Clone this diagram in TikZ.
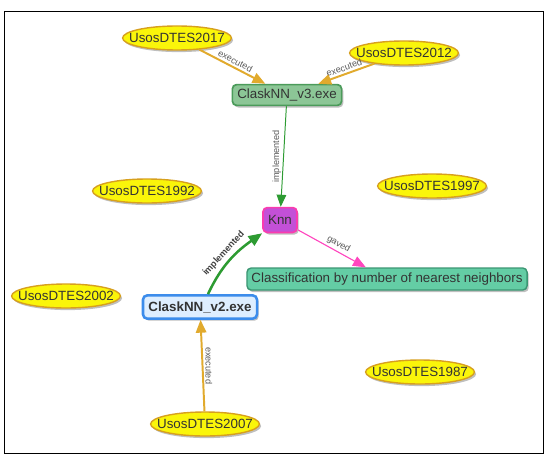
\documentclass[tikz,border=0pt]{standalone}
\usepackage{fontspec}
\setmainfont{Liberation Sans}
\usetikzlibrary{shapes.geometric, arrows.meta, shadows}
\definecolor{UsoYellow}{RGB}{250,245,10}
\definecolor{UsoBorder}{RGB}{215,160,30}
\definecolor{ExecOrange}{RGB}{225,170,45}
\definecolor{VthreeGreen}{RGB}{140,198,150}
\definecolor{VthreeBorder}{RGB}{75,155,90}
\definecolor{KnnPurple}{RGB}{195,80,215}
\definecolor{KnnPink}{RGB}{250,60,175}
\definecolor{ClassTeal}{RGB}{100,205,165}
\definecolor{ClassBorder}{RGB}{60,150,115}
\definecolor{VtwoFill}{RGB}{222,238,255}
\definecolor{VtwoBlue}{RGB}{60,140,235}
\definecolor{ImplGreen}{RGB}{45,155,50}
\definecolor{GaveMagenta}{RGB}{255,70,190}
\definecolor{LabelGray}{RGB}{90,90,90}
\tikzset{
  softshadow/.style={drop shadow={shadow xshift=1.2pt, shadow yshift=-1.5pt, opacity=0.25, fill=black}},
  uso/.style={ellipse, draw=UsoBorder, line width=1pt, fill=UsoYellow, inner sep=0pt,
    minimum width=2.72cm, minimum height=0.6cm, softshadow,
    label={[font=\fontsize{9.5}{11}\selectfont, text=black!80]center:#1}},
  prog/.style={rounded corners=3pt, inner sep=0pt, font=\fontsize{9.5}{11}\selectfont,
    text=black!80, softshadow},
  vthree/.style={prog, draw=VthreeBorder, line width=1.2pt, fill=VthreeGreen,
    minimum width=2.73cm, minimum height=0.52cm},
  vtwo/.style={prog, draw=VtwoBlue, line width=1.8pt, fill=VtwoFill, font=\fontsize{9.5}{11}\selectfont\bfseries,
    minimum width=2.85cm, minimum height=0.58cm},
  knnbox/.style={prog, draw=KnnPink, line width=1.2pt, fill=KnnPurple,
    minimum width=0.85cm, minimum height=0.62cm},
  classbox/.style={prog, draw=ClassBorder, line width=1pt, fill=ClassTeal,
    minimum width=7cm, minimum height=0.55cm},
  execarr/.style={-{Triangle[length=3.2mm,width=2.6mm]}, line width=1.4pt, ExecOrange},
  implarr/.style={-{Triangle[length=3mm,width=2.4mm]}, line width=0.7pt, ImplGreen},
  implthick/.style={-{Triangle[length=3.4mm,width=2.8mm]}, line width=1.8pt, ImplGreen},
  gavearr/.style={-{Triangle[length=3.2mm,width=2.6mm]}, line width=0.8pt, GaveMagenta},
  edgelbl/.style={font=\fontsize{6.5}{7}\selectfont, text=LabelGray, inner sep=1.5pt},
}

\begin{document}
\begin{tikzpicture}[x=0.025cm, y=-0.025cm]
  \useasboundingbox (0,0) rectangle (550,466);
  \draw[line width=1.3pt] (4.5,11.5) rectangle (543.5,453.5);

  % usage nodes
  \node[uso=UsosDTES2017] (u17) at (177,38) {};
  \node[uso=UsosDTES2012] (u12) at (404,53) {};
  \node[uso=UsosDTES1992] (u92) at (147,191) {};
  \node[uso=UsosDTES1997] (u97) at (432,186) {};
  \node[uso=UsosDTES2002] (u02) at (66,296) {};
  \node[uso=UsosDTES1987] (u87) at (420,372) {};
  \node[uso=UsosDTES2007] (u07) at (205,424) {};

  % programs and concepts
  \node[vthree] (v3) at (287,95) {ClaskNN\_v3.exe};
  \node[knnbox] (knn) at (280,220) {Knn};
  \node[classbox] (cls) at (387,279) {Classification by number of nearest neighbors};
  \node[vtwo] (v2) at (200,307) {ClaskNN\_v2.exe};

  \draw[execarr] (u17) -- (v3) node[edgelbl, midway, sloped, above] {executed};
  \draw[execarr] (u12) -- (v3) node[edgelbl, midway, sloped, above] {executed};
  \draw[implarr] (v3) -- (knn) node[edgelbl, midway, rotate=90, anchor=south] {implemented};
  \draw[gavearr] (knn) -- (cls) node[edgelbl, pos=0.55, sloped, above] {gaved};
  \draw[implthick] (v2.north) ++(8,0) to[out=65, in=-145] node[edgelbl, text=black!75,
    font=\fontsize{6.5}{7}\selectfont\bfseries, midway, sloped, above=1pt] {implemented} (knn.south west);
  \draw[execarr] (u07) -- (v2) node[edgelbl, midway, rotate=-90, anchor=south] {executed};
\end{tikzpicture}
\end{document}
